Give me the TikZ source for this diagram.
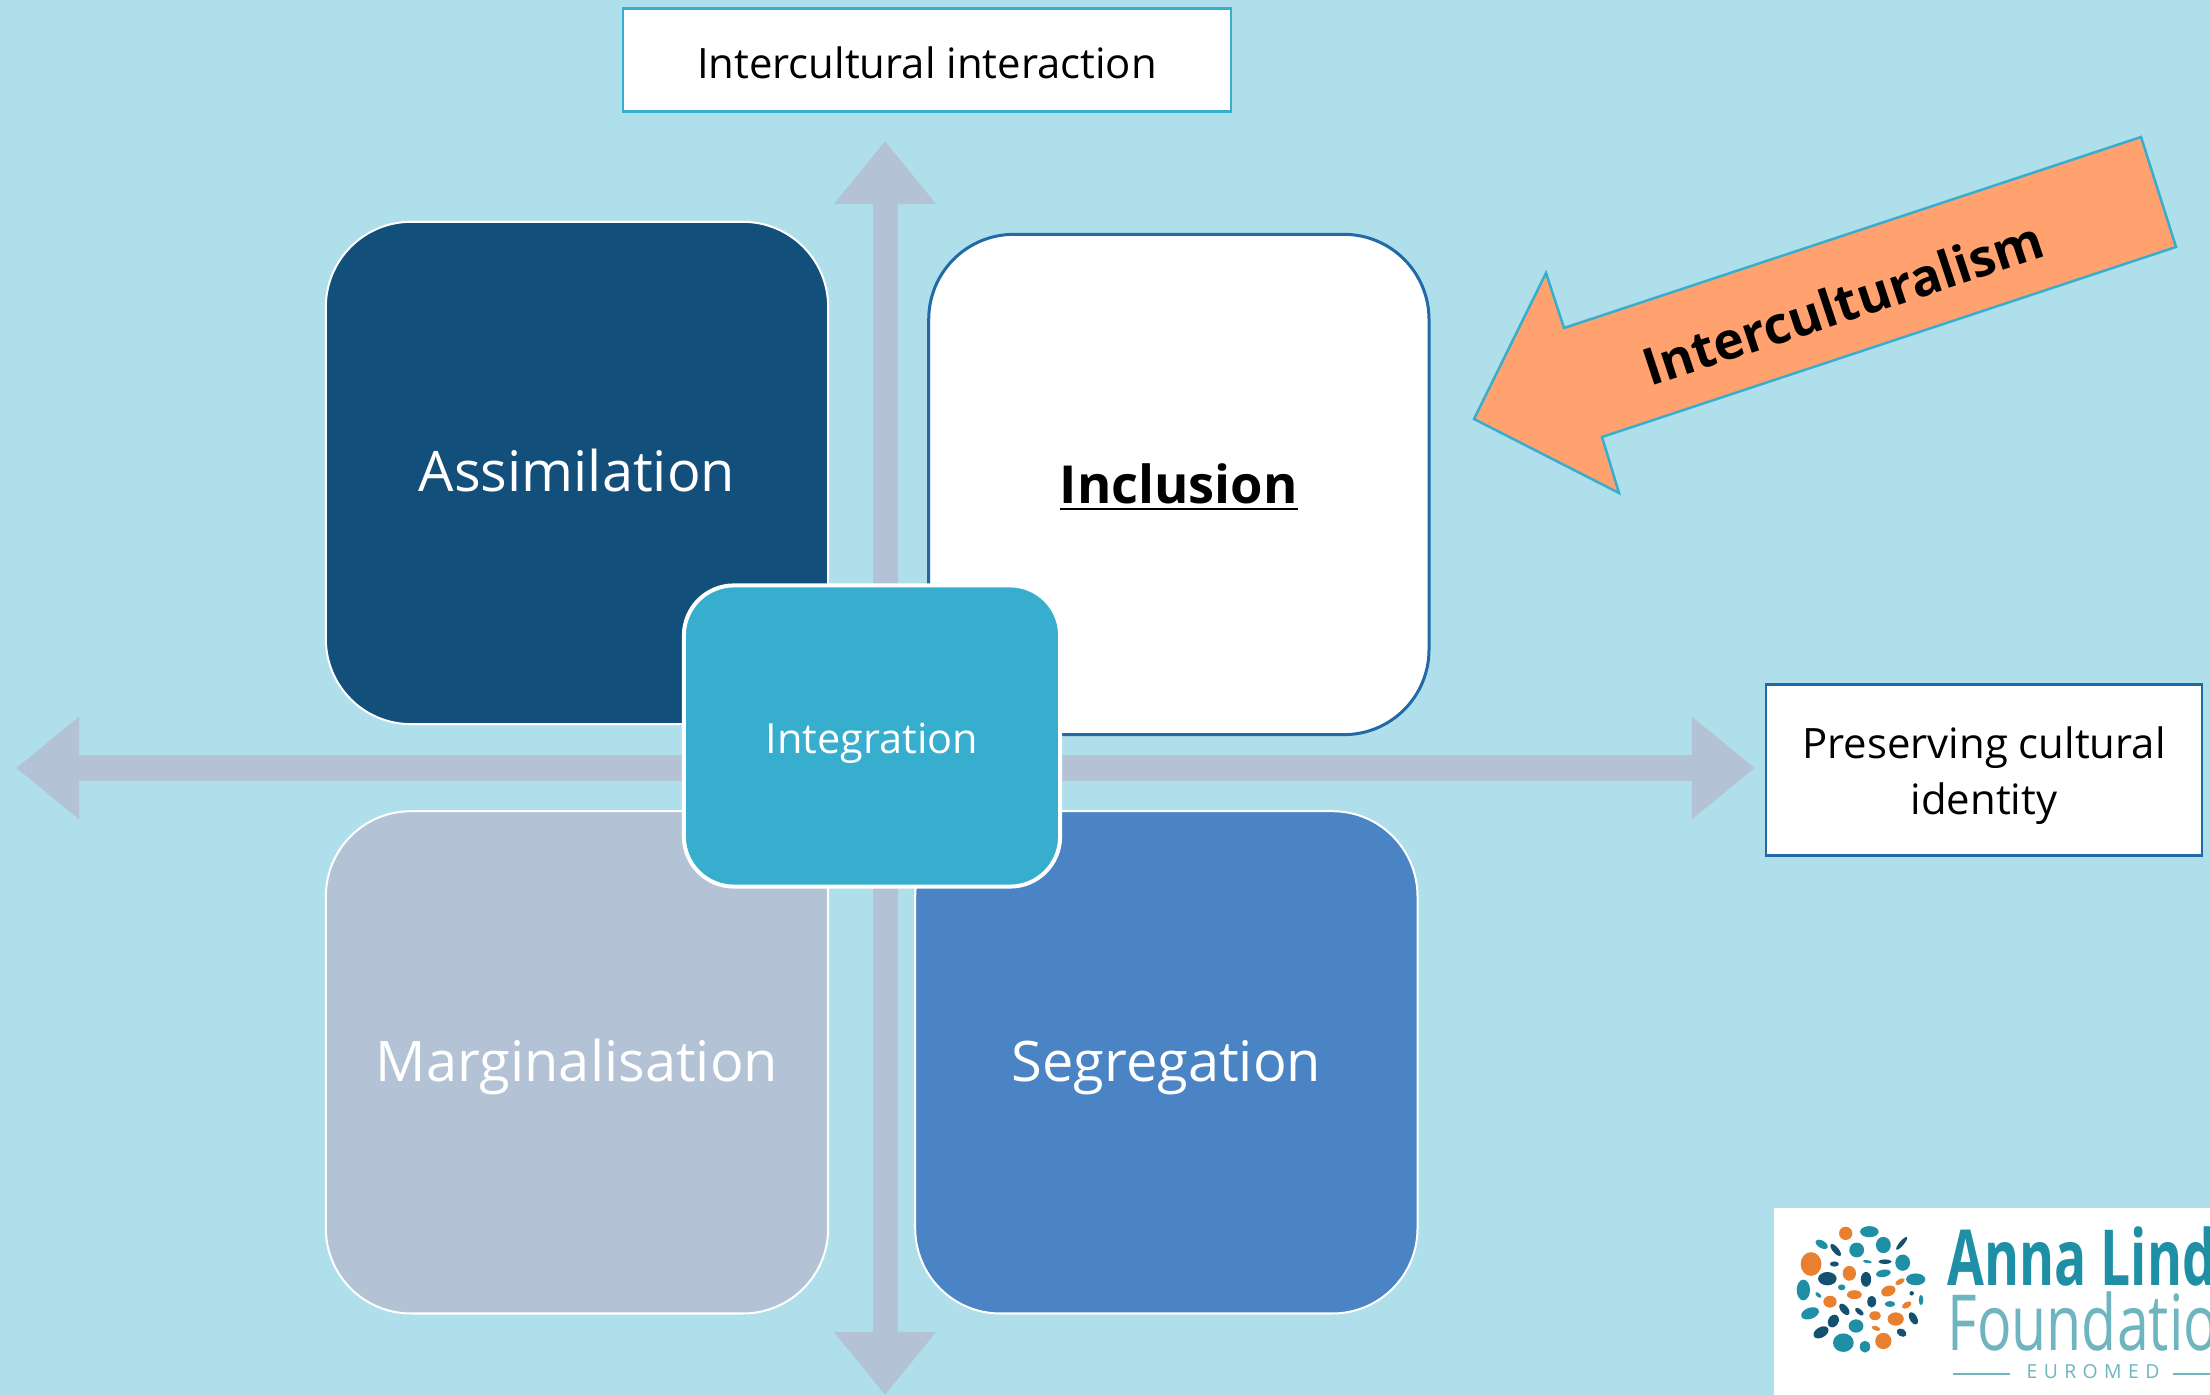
\documentclass[tikz,border=0pt]{standalone}
\usepackage{xcolor}
\usepackage{fontspec}
\setmainfont{Open Sans}
\usetikzlibrary{positioning}
\usetikzlibrary{arrows.meta}

\definecolor{bgblue}{HTML}{AEDFEB}
\definecolor{axisgrey}{HTML}{B3C2D5}
\definecolor{darkblue}{HTML}{134F7B}
\definecolor{midblue}{HTML}{4A84C4}
\definecolor{linkblue}{HTML}{2269A8}
\definecolor{cyanblue}{HTML}{37AECE}
\definecolor{arroworange}{HTML}{FFA26F}
\definecolor{dotorange}{HTML}{E8802F}
\definecolor{dotteal}{HTML}{1E8FA5}
\definecolor{dotdark}{HTML}{14506F}
\definecolor{logolight}{HTML}{6FB5C0}

% puts the baseline a given distance under the centre of the node
\newcommand{\lowered}[2]{\raisebox{-#1}[0pt][0pt]{#2}}

\tikzset{
  quadbox/.style={draw=white, line width=0.02cm, rounded corners=0.85cm, minimum width=5.02cm, minimum height=5.02cm, text=white, font=\fontsize{15.9}{20}\selectfont},
  labelbox/.style={draw=cyanblue, line width=0.025cm, fill=white, align=center, font=\fontsize{11.9}{16}\selectfont},
  axisline/.style={draw=axisgrey, line width=0.25cm, {Triangle[length=0.63cm,width=0.98cm]}-{Triangle[length=0.63cm,width=0.98cm]}},
  logotext/.style={anchor=base west, inner sep=0pt, transform shape, font=\fontsize{22}{22}\selectfont},
}

\begin{document}
\begin{tikzpicture}[x=0.01cm, y=-0.01cm]
        \useasboundingbox (0,0) rectangle (2210,1395);
        \fill[bgblue] (0,0) rectangle (2210,1395);

        % axes
        \coordinate (axisN) at (885,141);
        \coordinate (axisS) at (885,1395);
        \coordinate (axisW) at (16,768);
        \coordinate (axisE) at (1755,768);
        \draw[axisline] (axisS) -- (axisN);
        \draw[axisline] (axisW) -- (axisE);

        % the four quadrants
        \node[quadbox, fill=darkblue] (assim) at (577,473) {\lowered{0.18cm}{Assimilation}};
        \node[quadbox, fill=axisgrey, below=0.85cm of assim] (margin) {\lowered{0.19cm}{Marginalisation}};
        \node[quadbox, fill=midblue, right=0.85cm of margin] (segreg) {\lowered{0.19cm}{Segregation}};
        \node[quadbox, fill=white, draw=linkblue, line width=0.03cm, minimum width=5cm, minimum height=5cm, text=black, right=0.98cm of assim, yshift=-0.115cm, font=\fontsize{14.9}{20}\selectfont\bfseries] (incl) {\lowered{0.19cm}{\underline{Inclusion}}};

        % centre
        \node[quadbox, fill=cyanblue, line width=0.04cm, rounded corners=0.5cm, minimum width=3.76cm, minimum height=3.01cm, font=\fontsize{11.8}{16}\selectfont] (integ) at (872,736) {\lowered{0.17cm}{Integration}};

        % axis labels
        \node[labelbox, minimum width=6.08cm, minimum height=1.03cm] (interaction) at (927,60) {\lowered{0.19cm}{Intercultural interaction}};
        \node[labelbox, draw=linkblue, minimum width=4.36cm, minimum height=1.71cm] (identity) at (1984,770) {\rule{0pt}{12.4pt}Preserving cultural\\identity};

        % big arrow
        \draw[fill=arroworange, draw=cyanblue, line width=0.025cm, line join=miter]
          (2141,137) -- (2176,247) -- (1602,437) -- (1619,493) -- (1474,419) -- (1546,273) -- (1564,328) -- cycle;
        \node[rotate=18.3, font=\fontsize{14.6}{20}\selectfont\bfseries] (arrowlabel) at (1843,303) {Interculturalism};

        % logo
        \begin{scope}
          \clip (1774,1208) rectangle (2210,1395);
          \fill[white] (1774,1208) rectangle (2210,1395);
          \foreach \x/\y/\a/\b/\r/\c in {
            287/130/18/18/0/dotorange, 183/222/28/32/0/dotorange, 298/250/18/20/0/dotorange,
            313/314/20/12/0/dotorange, 415/303/20/14/20/dotorange, 240/335/18/16/0/dotorange,
            375/377/16/12/0/dotorange, 437/387/22/18/0/dotorange, 400/453/22/22/0/dotorange,
            470/345/14/8/30/dotorange, 450/275/14/7/30/dotorange, 378/415/12/6/-20/dotorange,
            358/125/25/15/0/dotteal, 320/180/20/20/0/dotteal, 400/165/20/22/0/dotteal,
            215/163/18/10/-30/dotteal, 458/218/20/22/0/dotteal, 400/250/20/10/10/dotteal,
            497/268/26/16/0/dotteal, 160/300/18/28/0/dotteal, 275/292/10/8/0/dotteal,
            180/370/25/15/20/dotteal, 318/408/20/18/0/dotteal, 280/458/28/25/0/dotteal,
            345/470/14/16/0/dotteal, 420/342/14/8/0/dotteal, 205/315/10/5/-40/dotteal,
            513/330/6/14/0/dotteal, 352/215/12/4/-10/dotteal,
            257/180/8/20/40/dotdark, 253/222/12/7/0/dotdark, 232/266/25/18/0/dotdark,
            348/268/14/20/0/dotdark, 455/160/6/22/-40/dotdark, 405/215/18/6/0/dotdark,
            365/335/12/16/0/dotdark, 283/358/10/18/40/dotdark, 328/365/14/7/-40/dotdark,
            250/393/14/18/-30/dotdark, 490/385/10/18/30/dotdark, 213/427/22/14/30/dotdark,
            455/428/14/10/-30/dotdark, 485/310/6/6/0/dotdark} {
            \fill[\c, rotate around={\r:(1750+\x/3,1190+\y/3)}] (1750+\x/3,1190+\y/3) ellipse ({\a/2.7*0.01cm} and {\b/2.7*0.01cm});
          }
          \node[logotext, xscale=0.69, text=dotteal, font=\fontsize{22}{22}\selectfont\bfseries] (annalind) at (1947,1285) {Anna Lind};
          \node[logotext, xscale=0.74, text=logolight] (foundation) at (1947,1350) {Foundatio};
          \node[anchor=base, inner sep=0pt, text=logolight, font=\fontsize{5.5}{6}\selectfont] (euromed) at (2093,1378) {E\,\,U\,\,R\,\,O\,\,M\,\,E\,\,D};
          \draw[logolight, line width=0.015cm] (1953,1374) -- (2010,1374);
          \draw[logolight, line width=0.015cm] (2173,1374) -- (2210,1374);
        \end{scope}

    \end{tikzpicture}
\end{document}
